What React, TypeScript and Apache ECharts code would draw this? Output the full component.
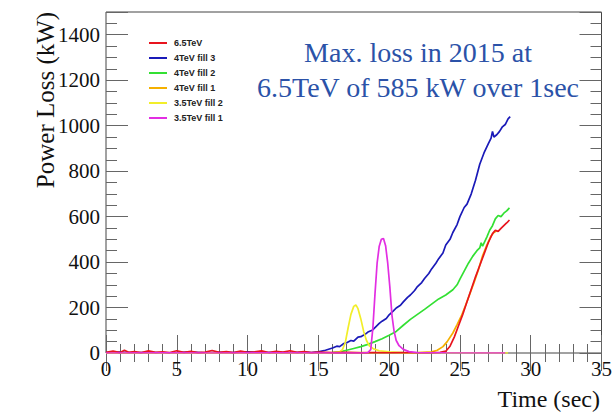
import React, { useEffect, useRef } from "react";
import * as echarts from "echarts";

const legendNames = ["6.5TeV", "4TeV fill 3", "4TeV fill 2", "4TeV fill 1", "3.5TeV fill 2", "3.5TeV fill 1"];
const seriesColors = ["#e8141e", "#1a1ab8", "#33e033", "#f5b000", "#f2ee2a", "#e22ee2"];

const xTickValues = [0, 5, 10, 15, 20, 25, 30, 35];
const yTickValues = [0, 200, 400, 600, 800, 1000, 1200, 1400];

const red65: number[][] = [
  [0, 3], [0.5, 8], [1, 2], [1.3, 12], [1.6, 3], [2, 6], [2.5, 2], [3, 9], [3.5, 3], [4, 5], [4.5, 2], [5, 10],
  [5.5, 3], [6, 7], [6.5, 2], [7, 4], [7.5, 11], [8, 3], [8.5, 6], [9, 2], [9.5, 8], [10, 3], [10.5, 5], [11, 9],
  [11.5, 2], [12, 7], [12.5, 4], [13, 10], [13.5, 3], [14, 6], [14.5, 2], [15, 4], [16, 2], [17, 3], [18, 1],
  [19, 2], [20, 1], [21, 2], [22, 1], [23, 2], [23.6, 3], [24, 8], [24.3, 30], [24.6, 70], [24.9, 120],
  [25.2, 170], [25.5, 225], [25.8, 280], [26.1, 335], [26.4, 385], [26.7, 435], [27.0, 485], [27.3, 525],
  [27.5, 540], [27.7, 535], [27.9, 548], [28.1, 560], [28.3, 572], [28.5, 585],
];

const blue4f3: number[][] = [
  [0, 2], [1, 4], [2, 1], [3, 3], [4, 1], [5, 2], [6, 4], [7, 1], [8, 3], [9, 2], [10, 5], [11, 2], [12, 3],
  [13, 1], [14, 4], [14.5, 2], [15, 5], [15.5, 12], [16, 22], [16.3, 30], [16.5, 28], [16.8, 42], [17, 45],
  [17.3, 55], [17.5, 52], [17.8, 70], [18, 72], [18.3, 82], [18.5, 92], [18.8, 100], [19, 112], [19.3, 130],
  [19.5, 140], [19.8, 152], [20, 168], [20.3, 185], [20.5, 198], [20.8, 210], [21, 225], [21.3, 245],
  [21.5, 255], [21.8, 275], [22, 292], [22.3, 310], [22.5, 328], [22.8, 350], [23, 370], [23.3, 395],
  [23.5, 415], [23.8, 440], [24, 475], [24.3, 500], [24.5, 530], [24.8, 565], [25, 600], [25.3, 640],
  [25.5, 655], [25.8, 700], [26.1, 760], [26.4, 830], [26.7, 880], [27.0, 920], [27.2, 945], [27.3, 975],
  [27.4, 950], [27.6, 960], [27.8, 975], [28.0, 995], [28.2, 1005], [28.4, 1030], [28.55, 1040],
];

const green4f2: number[][] = [
  [0, 1], [2, 0], [4, 1], [6, 0], [8, 1], [10, 0], [12, 1], [14, 0], [15, 1], [16, 2], [16.5, 5], [17, 12],
  [17.5, 20], [18, 28], [18.5, 38], [19, 50], [19.5, 63], [20, 78], [20.5, 95], [21, 122], [21.5, 148],
  [22, 170], [22.5, 192], [23, 215], [23.5, 238], [24, 255], [24.5, 278], [24.8, 300], [25, 325], [25.3, 360],
  [25.6, 395], [25.9, 425], [26.2, 450], [26.4, 462], [26.5, 485], [26.6, 470], [26.9, 510], [27.1, 540],
  [27.3, 560], [27.5, 590], [27.7, 605], [27.9, 600], [28.1, 615], [28.3, 625], [28.5, 638],
];

const orange4f1: number[][] = [
  [0, 0], [3, 1], [6, 0], [9, 1], [12, 0], [15, 1], [18, 2], [20, 1], [22, 2], [23, 5], [23.4, 12],
  [23.8, 28], [24.1, 50], [24.5, 88], [24.8, 125], [25.1, 163], [25.4, 210], [25.7, 260], [26.0, 310],
  [26.3, 365], [26.6, 428], [26.9, 475], [27.2, 515], [27.4, 530], [27.6, 538],
];

const yellow35f2: number[][] = [
  [0, 0], [4, 1], [8, 0], [12, 1], [15, 0], [16, 1], [16.5, 5], [16.7, 15], [16.9, 45], [17.1, 110],
  [17.3, 170], [17.5, 205], [17.65, 212], [17.8, 195], [18.0, 150], [18.2, 95], [18.4, 55], [18.6, 32],
  [18.9, 18], [19.3, 10], [20, 5], [21, 2], [23, 1], [26, 1], [28.4, 0],
];

const magenta35f1: number[][] = [
  [0, 0], [4, 1], [8, 0], [12, 1], [16, 0], [18, 0], [18.5, 2], [18.7, 15], [18.85, 110], [19.0, 260],
  [19.15, 395], [19.3, 470], [19.45, 500], [19.6, 504], [19.75, 472], [19.9, 395], [20.05, 290], [20.2, 165],
  [20.35, 95], [20.5, 55], [20.7, 32], [21.0, 16], [21.4, 6], [22, 2], [24, 1], [28.2, 0],
];

const seriesData = [red65, blue4f3, green4f2, orange4f1, yellow35f2, magenta35f1];
// drawing order: later ones on top
const drawOrder = [1, 2, 3, 4, 0, 5];

const serif = "'Liberation Serif', 'Times New Roman', serif";
const sans = "'Liberation Sans', Arial, sans-serif";
const tickColor = "#666";

export default function App() {
  const ref = useRef<HTMLDivElement>(null);
  useEffect(() => {
    document.body.style.margin = "0";
    if (!ref.current) return;
    const chart = echarts.init(ref.current, undefined, { renderer: "svg" });

    const baseX = (pos: "bottom" | "top", labels: boolean) => ({
      type: "value",
      position: pos,
      min: 0,
      max: 35,
      interval: 5,
      axisLine: { show: false },
      axisTick: { show: true, inside: true, length: 18, lineStyle: { color: tickColor, width: 1 } },
      minorTick: { show: true, splitNumber: 5, length: 9, lineStyle: { color: tickColor, width: 1 } },
      splitLine: { show: false },
      minorSplitLine: { show: false },
      axisLabel: {
        show: labels,
        fontFamily: serif,
        fontSize: 21,
        color: "#111",
        margin: 5,
        formatter: (v: number) => (xTickValues.includes(v) ? String(v) : ""),
      },
    });

    const baseY = (pos: "left" | "right", interval: number, len: number, labels: boolean) => ({
      type: "value",
      position: pos,
      min: 0,
      max: 1500,
      interval,
      axisLine: { show: false },
      axisTick: { show: true, inside: true, length: len, lineStyle: { color: tickColor, width: 1 } },
      splitLine: { show: false },
      axisLabel: {
        show: labels,
        fontFamily: serif,
        fontSize: 21,
        color: "#111",
        margin: 6,
        formatter: (v: number) => (yTickValues.includes(v) ? String(v) : ""),
      },
    });

    const series = drawOrder.map((i) => ({
      name: legendNames[i],
      type: "line",
      xAxisIndex: 0,
      yAxisIndex: 0,
      data: seriesData[i],
      showSymbol: false,
      symbol: "none",
      lineStyle: { color: seriesColors[i], width: 1.7 },
      itemStyle: { color: seriesColors[i] },
      z: 3,
    }));

    chart.setOption({
      animation: false,
      backgroundColor: "#ffffff",
      grid: {
        left: 106,
        top: 12,
        right: 12,
        bottom: 60,
        show: true,
        borderColor: "#444",
        borderWidth: 1,
        backgroundColor: "transparent",
      },
      xAxis: [baseX("bottom", true), baseX("top", false)],
      yAxis: [
        baseY("left", 200, 22, true),
        baseY("left", 50, 11, false),
        baseY("right", 200, 22, false),
        baseY("right", 50, 11, false),
      ],
      legend: {
        data: legendNames,
        orient: "vertical",
        left: 144,
        top: 33,
        itemWidth: 18,
        itemHeight: 2,
        itemGap: 5,
        icon: "rect",
        selectedMode: false,
        textStyle: {
          fontFamily: sans,
          fontWeight: "bold",
          fontSize: 9,
          lineHeight: 10,
          color: "#222",
          padding: [0, 0, 0, 2],
        },
      },
      graphic: [
        {
          type: "text",
          x: 45,
          y: 100,
          rotation: Math.PI / 2,
          style: {
            text: "Power Loss (kW)",
            fontFamily: serif,
            fontSize: 25,
            fill: "#111",
            textAlign: "center",
            textVerticalAlign: "middle",
          },
        },
        {
          type: "text",
          x: 600,
          y: 399,
          style: {
            text: "Time (sec)",
            fontFamily: serif,
            fontSize: 24,
            fill: "#111",
            textAlign: "right",
            textVerticalAlign: "middle",
          },
        },
        {
          type: "text",
          x: 418,
          y: 52,
          style: {
            text: "Max. loss in 2015 at",
            fontFamily: serif,
            fontSize: 28,
            fill: "#2b52a8",
            textAlign: "center",
            textVerticalAlign: "middle",
          },
        },
        {
          type: "text",
          x: 418,
          y: 87,
          style: {
            text: "6.5TeV of 585 kW over 1sec",
            fontFamily: serif,
            fontSize: 28,
            fill: "#2b52a8",
            textAlign: "center",
            textVerticalAlign: "middle",
          },
        },
      ],
      series,
    });
    return () => chart.dispose();
  }, []);
  return <div ref={ref} style={{ width: 615, height: 413 }} />;
}
